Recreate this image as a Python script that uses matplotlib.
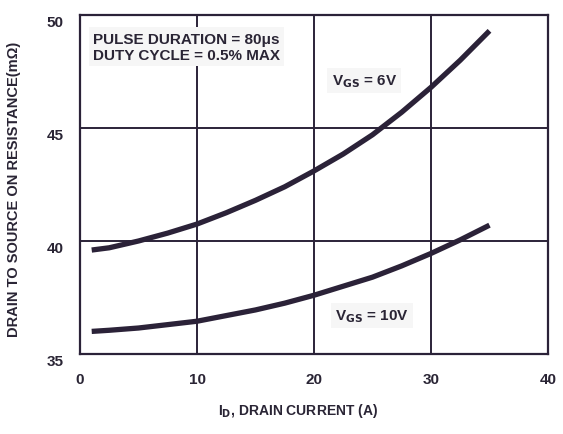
import matplotlib
matplotlib.use('Agg')
from matplotlib import pyplot as plt

plt.rcParams['font.family'] = ['Liberation Sans', 'DejaVu Sans']
plt.rcParams['font.weight'] = 'bold'

ink = '#2b2238'
txt = '#2a2535'

# drain current (A)
i_d = [1, 2.5, 5, 7.5, 10, 12.5, 15, 17.5, 20, 22.5, 25, 27.5, 30, 32.5, 35]
# on resistance (mOhm)
r_vgs6 = [39.6, 39.7, 40.0, 40.35, 40.75, 41.25, 41.8, 42.4, 43.1, 43.85,
          44.7, 45.7, 46.8, 48.0, 49.3]
r_vgs10 = [36.0, 36.05, 36.15, 36.3, 36.45, 36.7, 36.95, 37.25, 37.6, 38.0,
           38.4, 38.9, 39.45, 40.05, 40.7]

xticks = [0, 10, 20, 30, 40]
yticks = [35, 40, 45, 50]

fig = plt.figure(figsize=(5.63, 4.35), dpi=100)
ax = fig.add_axes([80 / 563, 1 - 355 / 435, 468 / 563, 339 / 435])

ax.plot(i_d, r_vgs6, color=ink, lw=3.8, solid_capstyle='butt')
ax.plot(i_d, r_vgs10, color=ink, lw=3.8, solid_capstyle='butt')

ax.set_xlim(0, 40)
ax.set_ylim(35, 50)
ax.set_xticks(xticks)
ax.set_yticks(yticks)
ax.tick_params(length=0, labelsize=11, colors=txt)
ax.tick_params(axis='x', pad=13)
ax.tick_params(axis='y', pad=12)
for lab in ax.get_xticklabels() + ax.get_yticklabels():
    lab.set_fontweight('bold')
for lab in ax.get_yticklabels():
    lab.set_va('top')
ax.grid(True, color=ink, lw=1.4)
ax.set_axisbelow(True)
for s in ax.spines.values():
    s.set_color(ink)
    s.set_linewidth(1.6)

ax.set_xlabel(r'I$_\mathbf{D}$, DRAIN CURRENT (A)', fontsize=10,
              fontweight='bold', color=txt)
ax.xaxis.set_label_coords(0.466, -0.138)
ax.set_ylabel('DRAIN TO SOURCE ON RESISTANCE(m\u03a9)', fontsize=10.5,
              fontweight='bold', color=txt)
ax.yaxis.set_label_coords(-0.125, 0.49)

box = dict(facecolor='#f6f6f6', edgecolor='none', pad=3)
ax.text(1.1, 48.6, 'PULSE DURATION = 80\u03bcs\nDUTY CYCLE = 0.5% MAX',
        fontsize=11, fontweight='bold', color=txt, va='center',
        linespacing=1.2, bbox=box)
ax.text(21.5, 47.1, r'V$_\mathbf{GS}$ = 6V', fontsize=11, fontweight='bold',
        color=txt, va='center', bbox=box)
ax.text(21.8, 36.7, r'V$_\mathbf{GS}$ = 10V', fontsize=11, fontweight='bold',
        color=txt, va='center', bbox=box)

plt.savefig('out.png', dpi=100)
